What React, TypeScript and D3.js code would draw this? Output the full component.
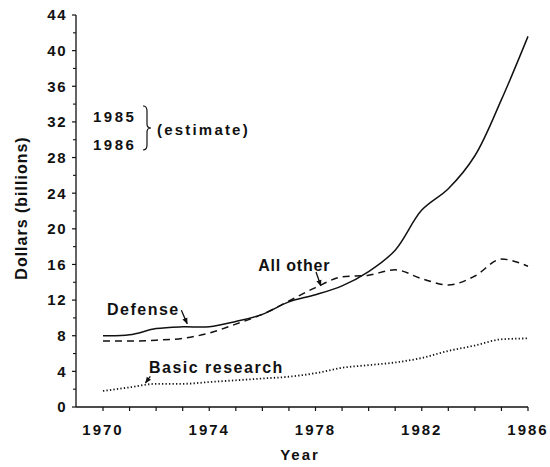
import React from "react";
import * as d3 from "d3";

const years = [1970, 1971, 1972, 1973, 1974, 1975, 1976, 1977, 1978, 1979, 1980, 1981, 1982, 1983, 1984, 1985, 1986];
const defense = [8.0, 8.1, 8.8, 9.0, 9.0, 9.6, 10.4, 11.8, 12.6, 13.6, 15.2, 17.6, 22.1, 24.5, 28.2, 34.5, 41.6];
const allOther = [7.4, 7.4, 7.5, 7.7, 8.3, 9.3, 10.4, 11.9, 13.4, 14.6, 14.8, 15.4, 14.4, 13.7, 14.7, 16.6, 15.8];
const basicResearch = [1.8, 2.2, 2.6, 2.6, 2.8, 3.0, 3.2, 3.4, 3.8, 4.4, 4.7, 5.0, 5.5, 6.3, 6.9, 7.6, 7.7];
const xTickLabels = [1970, 1974, 1978, 1982, 1986];
const yTickLabels = [0, 4, 8, 12, 16, 20, 24, 28, 32, 36, 40, 44];
const yMinorTicks = [2, 6, 10, 14, 18, 22, 26, 30, 34, 38, 42];

const FONT = "'Liberation Sans', Arial, Helvetica, sans-serif";
const INK = "#111";

export default function App() {
  const x = d3.scaleLinear().domain([1970, 1986]).range([103, 528]);
  const y = d3.scaleLinear().domain([0, 44]).range([407, 15]);
  const axisX = 76;

  const line = (vals: number[], curve: d3.CurveFactory) =>
    d3
      .line<number>()
      .x((_, i) => x(years[i]))
      .y((v) => y(v))
      .curve(curve)(vals) || "";

  const arrow = (x1: number, v1: number, x2: number, v2: number) => (
    <line x1={x(x1)} y1={y(v1)} x2={x(x2)} y2={y(v2)} stroke={INK} strokeWidth={1.3} markerEnd="url(#ah)" />
  );

  const textStyle = { fontFamily: FONT, fontWeight: "bold" as const, fill: INK };

  return (
    <svg width={550} height={467} style={{ position: "absolute", left: 0, top: 0, background: "#fff" }}>
      <defs>
        <marker id="ah" viewBox="0 0 10 10" refX="9" refY="5" markerWidth="5" markerHeight="5" orient="auto">
          <path d="M0,1 L10,5 L0,9 z" fill={INK} />
        </marker>
      </defs>
      {/* Y axis */}
      <line x1={axisX} y1={y(44)} x2={axisX} y2={y(0)} stroke={INK} strokeWidth={1.3} />
      {yTickLabels.map((t) => (
        <g key={"yt" + t}>
          <line x1={axisX - 4} x2={axisX} y1={y(t)} y2={y(t)} stroke={INK} strokeWidth={1.2} />
          <text x={67} y={y(t)} dy="0.36em" textAnchor="end" fontSize={15} letterSpacing={1.5} style={textStyle}>
            {t}
          </text>
        </g>
      ))}
      {yMinorTicks.map((t) => (
        <line key={"ym" + t} x1={axisX - 3} x2={axisX} y1={y(t)} y2={y(t)} stroke={INK} strokeWidth={1.1} />
      ))}
      {/* X axis */}
      <line x1={axisX} y1={y(0)} x2={x(1986)} y2={y(0)} stroke={INK} strokeWidth={1.6} />
      {years.map((yr) => (
        <line key={"xt" + yr} x1={x(yr)} x2={x(yr)} y1={y(0)} y2={y(0) + 4} stroke={INK} strokeWidth={1.2} />
      ))}
      {xTickLabels.map((yr) => (
        <text key={"xl" + yr} x={x(yr)} y={435} textAnchor="middle" fontSize={15} letterSpacing={2} style={textStyle}>
          {yr}
        </text>
      ))}
      {/* axis titles */}
      <text x={300} y={460} textAnchor="middle" fontSize={15} letterSpacing={2} style={textStyle}>
        Year
      </text>
      <text
        transform="translate(27,208) rotate(-90)"
        textAnchor="middle"
        fontSize={16}
        letterSpacing={1}
        style={textStyle}
      >
        Dollars (billions)
      </text>
      {/* series */}
      <path d={line(defense, d3.curveCatmullRom.alpha(0.5))} fill="none" stroke={INK} strokeWidth={1.5} />
      <path d={line(allOther, d3.curveMonotoneX)} fill="none" stroke={INK} strokeWidth={1.5} strokeDasharray="7,5" />
      <path d={line(basicResearch, d3.curveMonotoneX)} fill="none" stroke={INK} strokeWidth={1.8} strokeDasharray="1.3,2.2" />
      {/* annotations */}
      <text x={x(1970.15)} y={y(10.3)} fontSize={16} letterSpacing={1.5} style={textStyle}>
        Defense
      </text>
      {arrow(1972.95, 10.85, 1973.17, 9.35)}
      <text x={x(1975.84)} y={y(15.3)} fontSize={16} letterSpacing={0.8} style={textStyle}>
        All other
      </text>
      {arrow(1978.02, 15.15, 1978.2, 13.6)}
      <text x={x(1971.73)} y={y(3.85)} fontSize={16} letterSpacing={1.5} style={textStyle}>
        Basic research
      </text>
      {arrow(1971.78, 3.45, 1971.6, 2.7)}
      {/* estimate note */}
      <text x={93} y={122} fontSize={15} letterSpacing={2.5} style={textStyle}>
        1985
      </text>
      <text x={93} y={150} fontSize={15} letterSpacing={2.5} style={textStyle}>
        1986
      </text>
      <path d="M143,106 Q147,106 147,111 L147,124 Q147,128 151,128 Q147,128 147,132 L147,145 Q147,150 143,150" fill="none" stroke={INK} strokeWidth={1.2} />
      <text x={157} y={135} fontSize={15} letterSpacing={2.2} style={textStyle}>
        (estimate)
      </text>
    </svg>
  );
}
